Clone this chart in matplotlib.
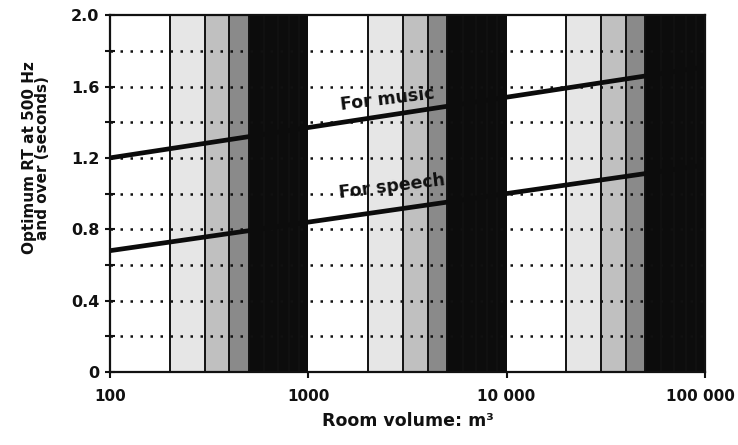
import matplotlib
matplotlib.use('Agg')
import numpy as np
import matplotlib.pyplot as plt
import matplotlib.transforms as mtransforms
from matplotlib.ticker import FixedLocator, FixedFormatter

# room volume (m3) and optimum RT
volume = [100, 1000, 10000, 100000]
rt_music = [1.20, 1.37, 1.54, 1.71]
rt_speech = [0.68, 0.84, 1.00, 1.16]

decades = [100, 1000, 10000]
# shaded bands inside each decade: (from, to) as multiples of the decade start
band_mult = [(2, 3), (3, 4), (4, 5), (5, 10)]
band_shade = ['#e6e6e6', '#c0c0c0', '#8a8a8a', '#0c0c0c']

x_ticks = [100, 1000, 10000, 100000]
x_labels = ['100', '1000', '10 000', '100 000']
y_ticks = [0, 0.4, 0.8, 1.2, 1.6, 2.0]
y_labels = ['0', '0.4', '0.8', '1.2', '1.6', '2.0']
y_minor = [0.2, 0.6, 1.0, 1.4, 1.8]

plt.rcParams['font.family'] = ['DejaVu Sans']
plt.rcParams['font.weight'] = 'bold'

fig = plt.figure(figsize=(7.38, 4.45), dpi=100)
ax = fig.add_axes([0.149, 0.164, 0.806, 0.802])
ax.set_xscale('log')
ax.set_xlim(100, 100000)
ax.set_ylim(0, 2.0)

for d in decades:
    for (a, b), c in zip(band_mult, band_shade):
        ax.axvspan(a * d, b * d, color=c, lw=0, zorder=0)

# vertical grid at 2..9 of each decade
for d in decades:
    for m in range(2, 10):
        ax.axvline(m * d, color='#111111', lw=1.4, zorder=1)

# dotted horizontal grid
for y in np.arange(0.2, 2.0, 0.2):
    ax.axhline(y, color='#111111', lw=1.8, ls=(0, (1, 3)), zorder=1)

ax.plot(volume, rt_music, color='#0c0c0c', lw=3.4, zorder=3)
ax.plot(volume, rt_speech, color='#0c0c0c', lw=3.4, zorder=3)

ax.text(2500, 1.53, 'For music', fontsize=12.5, fontweight='bold', rotation=7,
        ha='center', va='center', color='#111111', zorder=4)
ax.text(2650, 1.04, 'For speech', fontsize=12.5, fontweight='bold', rotation=7,
        ha='center', va='center', color='#111111', zorder=4)

ax.xaxis.set_major_locator(FixedLocator(x_ticks))
ax.xaxis.set_major_formatter(FixedFormatter(x_labels))
ax.xaxis.set_minor_locator(FixedLocator([]))
ax.yaxis.set_major_locator(FixedLocator(y_ticks))
ax.yaxis.set_major_formatter(FixedFormatter(y_labels))
ax.yaxis.set_minor_locator(FixedLocator(y_minor))

ax.tick_params(axis='x', which='major', direction='out', length=4, width=1.5,
               pad=8, labelsize=11, colors='#111111')
ax.tick_params(axis='y', which='both', direction='inout', length=7, width=1.5,
               pad=4, labelsize=11.5, colors='#111111')

# nudge the last x label so it stays inside the figure
last = ax.get_xticklabels()[-1]
last.set_transform(last.get_transform() +
                   mtransforms.ScaledTranslation(-4 / 100, 0, fig.dpi_scale_trans))

for s in ax.spines.values():
    s.set_linewidth(1.6)
    s.set_color('#111111')
    s.set_zorder(5)

ax.set_xlabel('Room volume: m³', fontsize=12.5, fontweight='bold',
              color='#111111', labelpad=6)
ax.set_ylabel('Optimum RT at 500 Hz\nand over (seconds)', fontsize=11,
              fontweight='bold', color='#111111', linespacing=0.85)
ax.yaxis.set_label_coords(-0.1, 0.6)

fig.savefig('out.png', dpi=100)
